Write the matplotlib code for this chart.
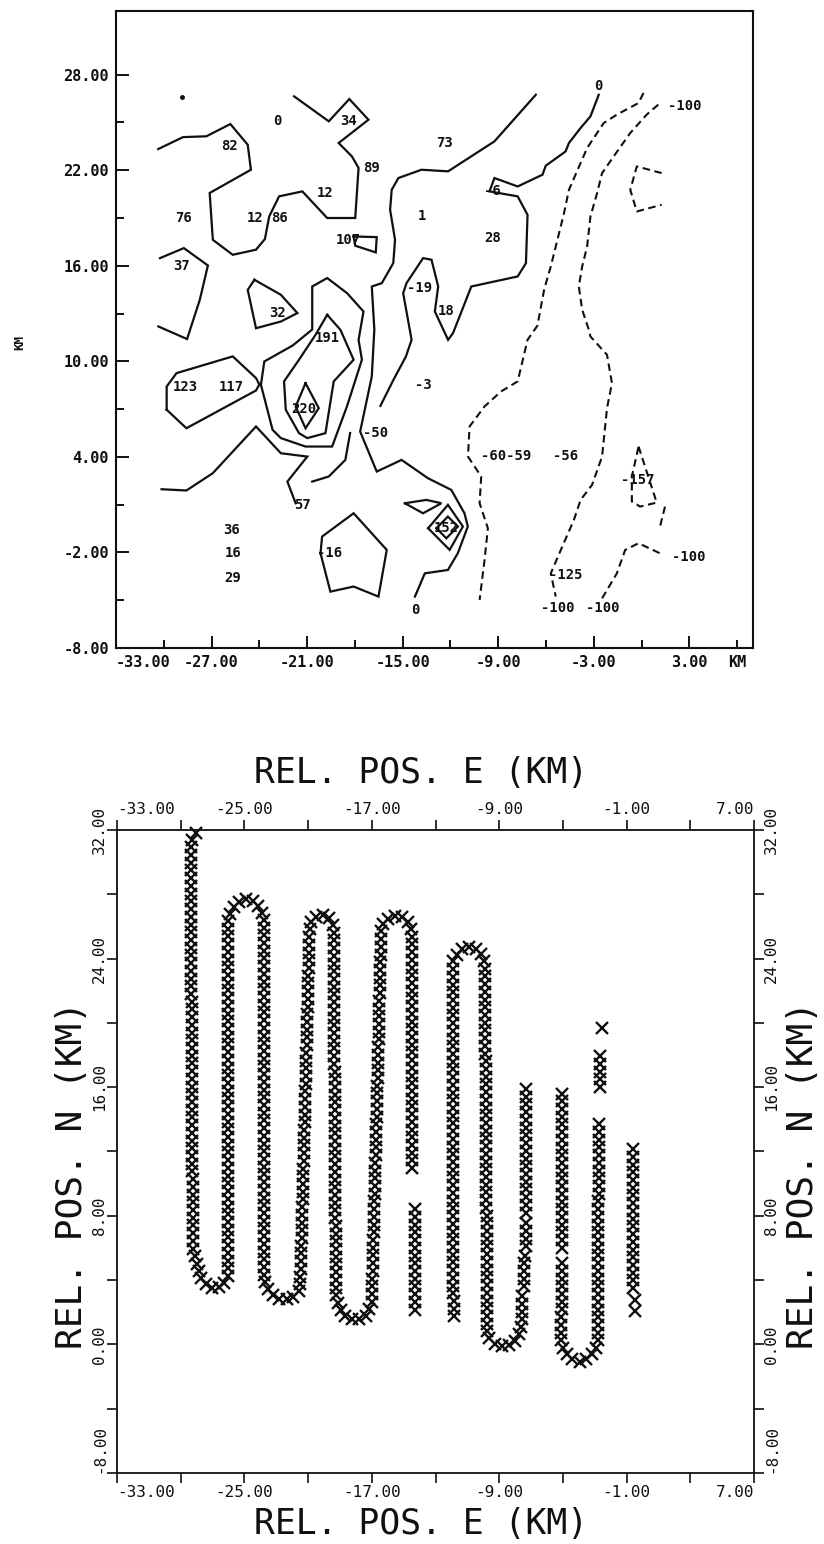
import numpy as np
import matplotlib
matplotlib.use("Agg")
import matplotlib.pyplot as plt

plt.rcParams["font.family"] = ["DejaVu Sans Mono", "DejaVu Sans"]

# ---------------- upper panel: contoured field (km east / km north) ----------------
# positive / zero isolines (solid)
line_a = [(-30.35, 23.33), (-28.79, 24.08), (-27.33, 24.13), (-25.82, 24.90), (-24.73, 23.60),
          (-24.53, 22.03), (-27.12, 20.57), (-26.92, 17.63), (-25.67, 16.69), (-24.21, 17.01),
          (-23.65, 17.68), (-23.38, 19.10), (-22.76, 20.36), (-21.30, 20.67), (-19.74, 19.00),
          (-17.98, 19.00), (-17.77, 22.14), (-18.19, 22.87), (-19.02, 23.71), (-17.15, 25.17),
          (-18.35, 26.47), (-19.64, 25.07), (-21.82, 26.64)]
line_b = [(-30.24, 16.48), (-28.74, 17.11), (-27.23, 16.02), (-27.74, 13.86), (-28.54, 11.40),
          (-30.34, 12.19)]
loop_32 = [(-24.31, 15.12), (-22.65, 14.18), (-21.61, 13.03), (-22.65, 12.50), (-24.21, 12.08),
           (-24.73, 14.49), (-24.31, 15.12)]
box_107 = [(-18.08, 17.84), (-16.63, 17.80), (-16.69, 16.84), (-17.98, 17.26), (-18.08, 17.84)]
line_d = [(-6.64, 26.74), (-9.24, 23.81), (-12.15, 21.93), (-13.82, 22.03), (-15.27, 21.51),
          (-15.69, 20.77), (-15.79, 19.52), (-15.48, 17.63), (-15.59, 16.17), (-16.31, 14.91),
          (-16.94, 14.70), (-16.78, 12.00), (-16.94, 9.05), (-17.67, 5.59), (-16.63, 3.08),
          (-15.07, 3.81), (-13.41, 2.66), (-11.95, 1.93), (-11.12, 0.46), (-10.91, -0.37),
          (-11.54, -2.05), (-12.16, -3.10), (-13.61, -3.31), (-14.23, -4.77)]
line_g = [(-2.69, 26.74), (-3.21, 25.38), (-3.83, 24.65), (-4.56, 23.71), (-4.77, 23.18),
          (-6.02, 22.28), (-6.22, 21.72), (-7.78, 20.98), (-9.24, 21.51), (-9.55, 20.67),
          (-7.78, 20.36), (-7.16, 19.20), (-7.26, 16.17), (-7.78, 15.33), (-10.69, 14.70),
          (-11.84, 11.77), (-12.15, 11.35), (-12.98, 13.13), (-12.77, 14.70), (-13.19, 16.38),
          (-13.72, 16.48), (-14.76, 14.91), (-14.97, 14.28), (-14.44, 11.35), (-14.80, 10.30),
          (-15.60, 8.80), (-16.40, 7.20)]
loop_123 = [(-29.82, 6.96), (-29.82, 8.42), (-29.20, 9.26), (-25.67, 10.31), (-24.21, 8.95),
            (-24.00, 8.55), (-24.21, 8.17), (-28.58, 5.80), (-29.82, 6.96)]
outer_191 = [(-23.90, 8.53), (-23.69, 9.99), (-21.90, 11.00), (-20.68, 12.00), (-20.68, 14.70),
             (-19.74, 15.23), (-18.49, 14.28), (-17.46, 13.13), (-17.77, 11.35), (-17.56, 10.10),
             (-18.50, 7.17), (-19.43, 4.65), (-21.10, 4.65), (-22.65, 5.18), (-23.17, 5.70),
             (-23.90, 8.53)]
inner_191 = [(-19.74, 12.92), (-20.47, 11.67), (-21.51, 10.10), (-22.45, 8.74), (-22.34, 6.96),
             (-21.51, 5.49), (-20.99, 5.18), (-19.85, 5.49), (-19.33, 8.74), (-18.08, 10.10),
             (-18.91, 11.98), (-19.74, 12.92)]
diamond_220 = [(-21.10, 8.63), (-20.27, 7.06), (-21.10, 5.80), (-21.72, 7.16), (-21.10, 8.63)]
line_e = [(-30.14, 1.97), (-28.58, 1.89), (-26.92, 2.98), (-24.21, 5.91), (-22.65, 4.23),
          (-20.99, 4.02), (-22.24, 2.45), (-21.72, 1.09)]
line_e2 = [(-20.68, 2.45), (-19.64, 2.77), (-18.60, 3.81), (-18.30, 5.50)]
loop_16 = [(-20.16, -2.05), (-19.54, -4.46), (-18.08, -4.14), (-16.52, -4.77), (-16.00, -1.84),
           (-18.08, 0.46), (-20.06, -1.00), (-20.16, -2.05)]
tri_152 = [(-14.86, 1.09), (-13.51, 1.30), (-12.57, 1.09), (-13.72, 0.46), (-14.86, 1.09)]
diamond_152_out = [(-13.40, -0.48), (-12.16, 0.99), (-11.22, -0.37), (-12.05, -1.84), (-13.40, -0.48)]
diamond_152_in = [(-12.88, -0.48), (-12.16, 0.25), (-11.53, -0.37), (-12.26, -1.11), (-12.88, -0.48)]

# negative isolines (dashed)
line_h = [(0.12, 26.85), (-0.19, 26.22), (-1.55, 25.49), (-2.38, 24.96), (-3.42, 23.39),
          (-3.83, 22.45), (-4.56, 20.77), (-4.87, 19.31), (-5.18, 18.05), (-5.70, 15.96),
          (-6.12, 14.49), (-6.54, 12.24), (-7.16, 11.35), (-7.78, 8.74), (-8.82, 8.11),
          (-9.86, 7.17), (-10.80, 5.91), (-10.90, 4.02), (-10.07, 2.77), (-10.17, 1.09),
          (-9.65, -0.48), (-9.86, -2.47), (-10.17, -4.98)]
line_i = [(1.05, 26.12), (0.32, 25.49), (-0.71, 24.34), (-1.75, 22.87), (-2.48, 21.82),
          (-2.79, 20.57), (-3.21, 19.10), (-3.42, 17.21), (-3.73, 15.96), (-3.94, 14.70),
          (-3.73, 13.24), (-3.31, 11.98), (-3.21, 11.56), (-2.17, 10.41), (-1.86, 8.63),
          (-2.17, 7.06), (-2.48, 4.02), (-3.11, 2.24), (-3.83, 1.30), (-4.25, 0.04),
          (-4.98, -1.63), (-5.70, -3.31), (-5.39, -4.77)]
line_j = [(1.26, 21.82), (-0.30, 22.24), (-0.71, 20.77), (-0.30, 19.41), (1.26, 19.83)]
line_k = [(-0.19, 4.65), (0.95, 1.13), (-0.09, 0.88), (-0.61, 1.20), (-0.61, 2.77), (-0.19, 4.65)]
line_l = [(1.47, 0.88), (1.16, -0.37)]
line_m = [(-2.48, -4.88), (-1.55, -3.31), (-1.03, -1.84), (-0.19, -1.42), (1.36, -2.15)]

solid_lines = [line_a, line_b, loop_32, box_107, line_d, line_g, loop_123, outer_191, inner_191,
               diamond_220, line_e, line_e2, loop_16, tri_152, diamond_152_out, diamond_152_in]
dashed_lines = [line_h, line_i, line_j, line_k, line_l, line_m]

# isoline / station value labels
label_text = ["82", "0", "34", "73", "89", "12", "76", "12", "86", "107", "1", "28", "-6",
              "37", "32", "-19", "18", "191", "123", "117", "220", "-3", "-50", "-60-59", "-56",
              "-157", "-100", "-125", "-100", "-100", "-100", "0", "0", "36", "16", "29",
              "-16", "57", "152"]
label_x = [-25.88, -22.86, -18.39, -12.36, -16.94, -19.85, -28.78, -24.28, -22.76, -18.39, -13.82,
           -9.34, -9.34, -28.89, -22.86, -13.93, -12.27, -19.74, -28.68, -25.77, -21.20, -13.71,
           -16.73, -8.51, -4.77, -0.26, 2.72, -4.77, -5.29, -2.44, 2.99, -2.69, -14.23, -25.77,
           -25.67, -25.67, -19.60, -21.30, -12.26]
label_y = [23.50, 25.07, 25.07, 23.71, 22.14, 20.57, 19.00, 19.00, 19.00, 17.63, 19.10,
           17.74, 20.67, 15.96, 13.03, 14.60, 13.13, 11.46, 8.42, 8.42, 7.00, 8.53,
           5.53, 4.07, 4.07, 2.56, 26.01, -3.41, -5.50, -5.50, -2.26, 27.31, -5.61, -0.58,
           -2.05, -3.62, -2.05, 0.99, -0.48]
isolated_x = [-28.83]
isolated_y = [26.58]

top_xticks = [-33, -27, -21, -15, -9, -3, 3]
top_xminor = [-30, -24, -18, -12, -6, 0, 6]
top_xminor_labels = ["", "", "", "", "", "", "KM"]
top_yticks = [-8, -2, 4, 10, 16, 22, 28]
top_yminor = [-5, 1, 7, 13, 19, 25]

# ---------------- lower panel: aircraft track ----------------
# track legs as waypoint polylines (km east, km north); position fixes every FIX_STEP km
track_1 = [(-28.04, 31.80), (-28.35, 31.20), (-28.30, 14.00), (-28.20, 5.90), (-27.80, 4.20),
           (-27.20, 3.50), (-26.40, 3.55), (-26.00, 4.40), (-26.05, 26.60), (-25.50, 27.45),
           (-24.85, 27.75), (-24.20, 27.45), (-23.80, 26.60), (-23.80, 4.00), (-23.40, 3.20),
           (-22.75, 2.80), (-22.05, 2.80), (-21.50, 3.40), (-20.90, 26.20), (-20.35, 26.70),
           (-19.80, 26.70), (-19.40, 26.00), (-19.25, 3.00), (-18.80, 1.85), (-18.05, 1.45),
           (-17.40, 1.75), (-17.00, 2.60), (-16.40, 26.00), (-15.95, 26.50), (-15.45, 26.70),
           (-14.90, 26.50), (-14.50, 25.80), (-14.45, 10.90)]
track_2 = [(-14.30, 8.40), (-14.30, 1.70)]
track_3 = [(-11.87, 1.74), (-11.90, 23.90), (-11.45, 24.55), (-10.85, 24.75), (-10.20, 24.45),
           (-9.90, 23.70), (-9.75, 0.50), (-9.25, 0.00), (-8.50, -0.15), (-7.90, 0.30),
           (-7.60, 1.10), (-7.55, 3.00)]
track_4 = [(-7.45, 3.60), (-7.40, 5.70)]
track_5 = [(-7.35, 6.10), (-7.35, 7.60)]
track_6 = [(-7.35, 8.20), (-7.35, 15.90)]
track_7 = [(-5.07, 15.60), (-5.07, 5.90)]
track_8 = [(-5.07, 5.05), (-5.10, 0.00), (-4.60, -0.85), (-3.90, -1.10), (-3.20, -0.70),
           (-2.80, 0.00), (-2.75, 13.90)]
track_9 = [(-2.66, 16.00), (-2.66, 18.10)]
track_10 = [(-2.56, 19.67)]
track_11 = [(-0.57, 3.50), (-0.57, 12.20)]
track_12 = [(-0.45, 2.05)]
track_13 = [(-0.50, 2.75)]
track_legs = [track_1, track_2, track_3, track_4, track_5, track_6, track_7, track_8,
              track_9, track_10, track_11, track_12, track_13]
FIX_STEP = 0.48

bot_xticks = [-33, -25, -17, -9, -1, 7]
bot_xminor = [-29, -21, -13, -5, 3]
bot_yticks = [-8, 0, 8, 16, 24, 32]
bot_yminor = [-4, 4, 12, 20, 28]
axis_e = "REL. POS. E (KM)"
axis_n = "REL. POS. N (KM)"


def fixes_along(verts, step):
    v = np.asarray(verts, dtype=float)
    if len(v) == 1:
        return v[:, 0], v[:, 1]
    seg = np.hypot(*np.diff(v, axis=0).T)
    s = np.concatenate([[0.0], np.cumsum(seg)])
    d = np.arange(0.0, s[-1] + 1e-9, step)
    return np.interp(d, s, v[:, 0]), np.interp(d, s, v[:, 1])


fig = plt.figure(figsize=(8.24, 15.44), dpi=100)
ink = "#101010"

# ---- upper panel ----
ax1 = fig.add_axes([0.1408, 0.5803, 0.7731, 0.4126])
ax1.set_xlim(-33, 7)
ax1.set_ylim(-8, 32)
for path in solid_lines:
    p = np.asarray(path)
    ax1.plot(p[:, 0], p[:, 1], color=ink, lw=1.6, solid_joinstyle="miter")
for path in dashed_lines:
    p = np.asarray(path)
    ax1.plot(p[:, 0], p[:, 1], color=ink, lw=1.5, linestyle=(0, (3.6, 2.2)))
ax1.plot(isolated_x, isolated_y, "o", color=ink, ms=2.5)
for t, x, y in zip(label_text, label_x, label_y):
    ax1.text(x, y, t, ha="center", va="center", fontsize=10, fontweight="bold", color=ink)

for s in ax1.spines.values():
    s.set_linewidth(1.5)
    s.set_color(ink)
ax1.set_xticks(top_xticks)
ax1.set_xticklabels([f"{v:.2f}" for v in top_xticks])
ax1.set_xticks(top_xminor, labels=top_xminor_labels, minor=True)
ax1.set_yticks(top_yticks)
ax1.set_yticklabels([f"{v:.2f}" for v in top_yticks])
ax1.set_yticks(top_yminor, minor=True)
ax1.tick_params(which="major", direction="in", length=9, width=1.4, labelsize=11,
                colors=ink, pad=5)
ax1.tick_params(which="minor", direction="in", length=5.5, width=1.4, labelsize=11,
                colors=ink, pad=5)
for lab in ax1.get_xticklabels() + ax1.get_yticklabels() + ax1.get_xticklabels(minor=True):
    lab.set_fontweight("bold")
ax1.get_xticklabels()[0].set_ha("left")
fig.text(20 / 824, 1 - 342 / 1544, "KM", rotation=90, ha="center", va="center",
         fontsize=9, fontweight="bold", color=ink)

# ---- lower panel ----
ax2 = fig.add_axes([0.1420, 0.0460, 0.7731, 0.4165])
ax2.set_xlim(-33, 7)
ax2.set_ylim(-8, 32)
for leg in track_legs:
    fx, fy = fixes_along(leg, FIX_STEP)
    ax2.plot(fx, fy, linestyle="none", marker="x", ms=8, mew=1.7, color=ink, clip_on=False)

for s in ax2.spines.values():
    s.set_linewidth(1.3)
    s.set_color(ink)
ax2.set_xticks(bot_xticks)
ax2.set_xticklabels([f"{v:.2f}" for v in bot_xticks])
ax2.set_xticks(bot_xminor, minor=True)
ax2.set_yticks(bot_yticks)
ax2.set_yticklabels([f"{v:.2f}" for v in bot_yticks])
ax2.set_yticks(bot_yminor, minor=True)
ax2.tick_params(which="both", direction="out", length=7, width=1.2, colors=ink,
                top=True, right=True, labeltop=True, labelright=True, labelsize=11.5)
ax2.tick_params(axis="x", pad=2)
ax2.tick_params(axis="y", labelrotation=90, pad=0)
xt = ax2.xaxis.get_major_ticks()
for lab in (xt[0].label1, xt[0].label2):
    lab.set_ha("left")
for lab in (xt[-1].label1, xt[-1].label2):
    lab.set_ha("right")
for tk in ax2.yaxis.get_major_ticks():
    tk.label1.set_va("center")
    tk.label2.set_va("center")
yt = ax2.yaxis.get_major_ticks()
for lab in (yt[0].label1, yt[0].label2):
    lab.set_va("bottom")

ax2.text(0.477, 1.088, axis_e, transform=ax2.transAxes, ha="center", va="center",
         fontsize=25, color=ink)
ax2.text(0.477, -0.080, axis_e, transform=ax2.transAxes, ha="center", va="center",
         fontsize=25, color=ink)
ax2.text(-0.0706, 0.4635, axis_n, transform=ax2.transAxes, ha="center", va="center",
         rotation=90, fontsize=26, color=ink)
ax2.text(1.0775, 0.4635, axis_n, transform=ax2.transAxes, ha="center", va="center",
         rotation=90, fontsize=26, color=ink)

fig.savefig("out.png", dpi=100, facecolor="white")
